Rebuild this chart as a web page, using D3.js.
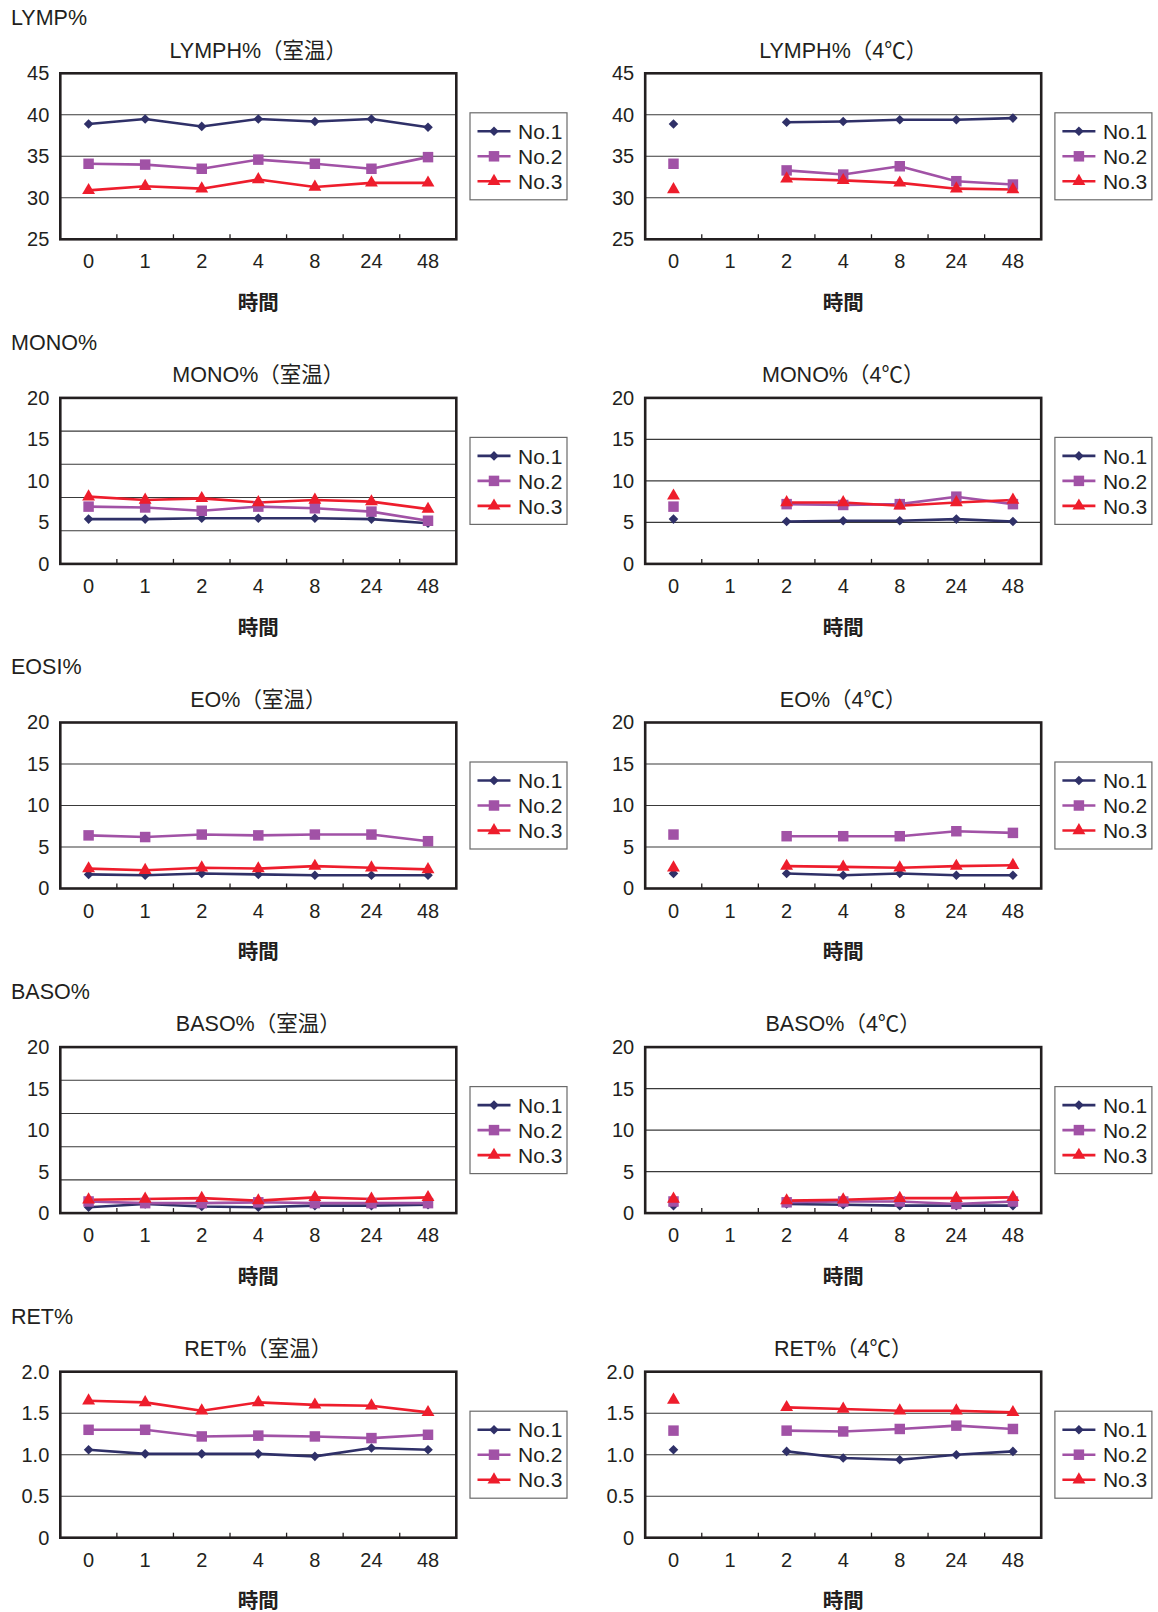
<!DOCTYPE html>
<html>
<head>
<meta charset="utf-8">
<script src="https://cdn.jsdelivr.net/npm/d3@7"></script>
<style>
  html, body { margin: 0; padding: 0; background: #fff; }
  svg { display: block; font-family: "Liberation Sans", Arial, "Noto Sans CJK JP", sans-serif; }
</style>
</head>
<body>
<svg id="chart" width="1158" height="1612"></svg>
<script>
// Sampling times (hours) on the x axis; 1h was not measured for 4℃ storage.
const hours = ["0", "1", "2", "4", "8", "24", "48"];
const seriesNames = ["No.1", "No.2", "No.3"];
const seriesColors = ["#2f3068", "#a152a6", "#ee1d2c"];
const conditions = ["室温", "4℃"];

const rowHeaders = ["LYMP%", "MONO%", "EOSI%", "BASO%", "RET%"];
const titleNames = ["LYMPH%", "MONO%", "EO%", "BASO%", "RET%"];

// Y-axis tick labels
const lymphTicks = [25, 30, 35, 40, 45];
const pctTicks = [0, 5, 10, 15, 20];
const retTicks = [0, 0.5, 1.0, 1.5, 2.0];
// Major gridlines of the two room-temperature panels that use a 4% step
const quarterGrid = [4, 8, 12, 16];

// Values per sample: [No.1, No.2, No.3]
const lymphRoom = [
  [38.9, 39.5, 38.6, 39.5, 39.2, 39.5, 38.5],
  [34.1, 34.0, 33.5, 34.6, 34.1, 33.5, 34.9],
  [30.9, 31.4, 31.1, 32.2, 31.3, 31.8, 31.8]
];
const lymphCold = [
  [38.9, null, 39.1, 39.2, 39.4, 39.4, 39.6],
  [34.1, null, 33.3, 32.8, 33.8, 32.0, 31.6],
  [31.0, null, 32.3, 32.1, 31.8, 31.1, 31.0]
];
const monoRoom = [
  [5.4, 5.4, 5.5, 5.5, 5.5, 5.4, 4.9],
  [6.9, 6.8, 6.4, 6.9, 6.7, 6.3, 5.2],
  [8.1, 7.7, 7.9, 7.4, 7.7, 7.5, 6.6]
];
const monoCold = [
  [5.4, null, 5.1, 5.2, 5.2, 5.4, 5.1],
  [6.9, null, 7.2, 7.1, 7.2, 8.1, 7.2],
  [8.2, null, 7.4, 7.4, 7.0, 7.4, 7.7]
];
const eoRoom = [
  [1.7, 1.6, 1.8, 1.7, 1.6, 1.6, 1.6],
  [6.4, 6.2, 6.5, 6.4, 6.5, 6.5, 5.7],
  [2.4, 2.2, 2.5, 2.4, 2.7, 2.5, 2.3]
];
const eoCold = [
  [1.8, null, 1.8, 1.6, 1.8, 1.6, 1.6],
  [6.5, null, 6.3, 6.3, 6.3, 6.9, 6.7],
  [2.5, null, 2.7, 2.6, 2.5, 2.7, 2.8]
];
const basoRoom = [
  [0.7, 1.1, 0.8, 0.7, 0.9, 0.9, 1.0],
  [1.4, 1.2, 1.2, 1.3, 1.2, 1.2, 1.2],
  [1.6, 1.7, 1.8, 1.5, 1.9, 1.7, 1.9]
];
const basoCold = [
  [0.9, null, 1.1, 1.0, 0.9, 0.9, 0.9],
  [1.4, null, 1.3, 1.4, 1.4, 1.1, 1.4],
  [1.7, null, 1.5, 1.6, 1.8, 1.8, 1.9]
];
const retRoom = [
  [1.06, 1.01, 1.01, 1.01, 0.98, 1.08, 1.06],
  [1.30, 1.30, 1.22, 1.23, 1.22, 1.20, 1.24],
  [1.65, 1.63, 1.53, 1.63, 1.60, 1.59, 1.51]
];
const retCold = [
  [1.06, null, 1.04, 0.96, 0.94, 1.00, 1.04],
  [1.29, null, 1.29, 1.28, 1.31, 1.35, 1.31],
  [1.66, null, 1.57, 1.55, 1.53, 1.53, 1.51]
];

// Panel configuration per row
const intFmt = d3.format("d");
const rows = [
  { header: rowHeaders[0], name: titleNames[0], domain: [25, 45], ticks: lymphTicks, grids: [lymphTicks.slice(1, -1), lymphTicks.slice(1, -1)], data: [lymphRoom, lymphCold], fmt: intFmt },
  { header: rowHeaders[1], name: titleNames[1], domain: [0, 20], ticks: pctTicks, grids: [quarterGrid, pctTicks.slice(1, -1)], data: [monoRoom, monoCold], fmt: intFmt },
  { header: rowHeaders[2], name: titleNames[2], domain: [0, 20], ticks: pctTicks, grids: [pctTicks.slice(1, -1), pctTicks.slice(1, -1)], data: [eoRoom, eoCold], fmt: intFmt },
  { header: rowHeaders[3], name: titleNames[3], domain: [0, 20], ticks: pctTicks, grids: [quarterGrid, pctTicks.slice(1, -1)], data: [basoRoom, basoCold], fmt: intFmt },
  { header: rowHeaders[4], name: titleNames[4], domain: [0, 2], ticks: retTicks, grids: [retTicks.slice(1, -1), retTicks.slice(1, -1)], data: [retRoom, retCold], fmt: d => d === 0 ? "0" : d3.format(".1f")(d) }
];

const svg = d3.select("#chart");
svg.append("rect").attr("width", 1158).attr("height", 1612).attr("fill", "#fff");

const plotW = 396, plotH = 166;
const colLeft = [60.3, 645.2];
const rowTop0 = 73.3, rowStep = 324.6;
const ink = "#231f20";

const symbolTypes = [d3.symbolSquare, d3.symbolSquare, d3.symbolTriangle];
const symbolSizes = [46, 110, 72];
const symbolRotate = [45, 0, 0];

function marker(sel, k, px, py) {
  return sel.append("path")
    .attr("d", d3.symbol().type(symbolTypes[k]).size(symbolSizes[k])())
    .attr("fill", seriesColors[k])
    .attr("transform", `translate(${px},${py}) rotate(${symbolRotate[k]})`);
}

rows.forEach((row, r) => {
  const top = rowTop0 + r * rowStep;

  svg.append("text")
    .attr("x", 11).attr("y", top - 56 + 7.8)
    .attr("font-size", 21.5).attr("fill", ink)
    .text(row.header);

  conditions.forEach((cond, c) => {
    const left = colLeft[c];
    const g = svg.append("g").attr("transform", `translate(${left},${top})`);

    const x = d3.scaleBand().domain(hours).range([0, plotW]);
    const cx = h => x(h) + x.bandwidth() / 2;
    const y = d3.scaleLinear().domain(row.domain).range([plotH, 0]);

    // title
    g.append("text")
      .attr("x", plotW / 2).attr("y", -23.5 + 7.8)
      .attr("text-anchor", "middle").attr("font-size", 21.5).attr("fill", ink)
      .text(`${row.name}（${cond}）`);

    // gridlines
    g.selectAll(".grid").data(row.grids[c]).join("line")
      .attr("x1", 0).attr("x2", plotW)
      .attr("y1", d => y(d)).attr("y2", d => y(d))
      .attr("stroke", "#3a3a3a").attr("stroke-width", 1.1);

    // x tick marks at category boundaries, pointing into the plot
    g.selectAll(".xtick").data(hours.slice(1)).join("line")
      .attr("x1", d => x(d)).attr("x2", d => x(d))
      .attr("y1", plotH).attr("y2", plotH - 5)
      .attr("stroke", ink).attr("stroke-width", 1.3);

    // y axis labels
    const ya = g.append("g")
      .call(d3.axisLeft(y).tickValues(row.ticks).tickSize(0).tickPadding(11).tickFormat(row.fmt));
    ya.select(".domain").remove();
    ya.selectAll("text").attr("font-size", 20).attr("fill", ink).attr("font-family", null);

    // x axis labels
    const xa = g.append("g").attr("transform", `translate(0,${plotH})`)
      .call(d3.axisBottom(x).tickSize(0).tickPadding(15));
    xa.select(".domain").remove();
    xa.selectAll("text").attr("font-size", 20).attr("fill", ink).attr("font-family", null);

    // x axis title
    g.append("text")
      .attr("x", plotW / 2).attr("y", plotH + 63 + 7.8)
      .attr("text-anchor", "middle").attr("font-size", 20.5).attr("font-weight", "bold")
      .attr("fill", ink)
      .text("時間");

    // series
    const dataSet = row.data[c];
    dataSet.forEach((vals, k) => {
      const pts = hours.map((h, i) => ({ h, v: vals[i] }));
      const line = d3.line().defined(d => d.v != null).x(d => cx(d.h)).y(d => y(d.v));
      g.append("path").datum(pts)
        .attr("d", line)
        .attr("fill", "none").attr("stroke", seriesColors[k]).attr("stroke-width", 2.6)
        .attr("stroke-linejoin", "round");
    });
    dataSet.forEach((vals, k) => {
      hours.forEach((h, i) => {
        if (vals[i] == null) return;
        marker(g, k, cx(h), y(vals[i]));
      });
    });

    // plot frame
    g.append("rect")
      .attr("x", 0).attr("y", 0).attr("width", plotW).attr("height", plotH)
      .attr("fill", "none").attr("stroke", ink).attr("stroke-width", 2.6);

    // legend
    const lg = g.append("g").attr("transform", `translate(${plotW + 13.7},39.5)`);
    lg.append("rect").attr("width", 97).attr("height", 87)
      .attr("fill", "#fff").attr("stroke", "#6a6a6a").attr("stroke-width", 1.2);
    seriesNames.forEach((name, k) => {
      const ly = 18.5 + k * 25;
      lg.append("line").attr("x1", 7.5).attr("x2", 40.5).attr("y1", ly).attr("y2", ly)
        .attr("stroke", seriesColors[k]).attr("stroke-width", 2.6);
      marker(lg, k, 24, ly);
      lg.append("text").attr("x", 48).attr("y", ly + 7.8)
        .attr("font-size", 21).attr("fill", ink).text(name);
    });
  });
});
</script>
</body>
</html>
